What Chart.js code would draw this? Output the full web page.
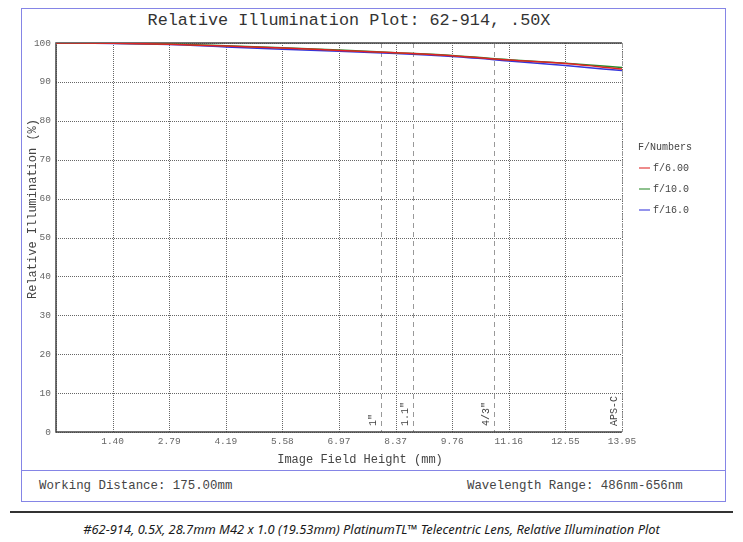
<!DOCTYPE html>
<html>
<head>
<meta charset="utf-8">
<script src="https://cdn.jsdelivr.net/npm/chart.js@4.4.1/dist/chart.umd.min.js"></script>
<style>
    body { margin: 0; background: #fff; width: 743px; height: 542px; position: relative; overflow: hidden; }
    .frame { position: absolute; left: 21px; top: 8px; width: 705px; height: 494px; border: 1.5px solid #8585e6; box-sizing: border-box; }
    .sep { position: absolute; left: 21px; top: 470px; width: 705px; border-top: 1.5px solid #8585e6; }
    .info { position: absolute; top: 479px; font: 12.4px "Liberation Mono", monospace; color: #444; }
    .rule { position: absolute; left: 10px; top: 511px; width: 723px; height: 2px; background: #333; }
    .caption { position: absolute; left: 0; width: 743px; top: 520px; text-align: center; font: italic 12.9px "Noto Sans", sans-serif; color: #1a1a1a; }
    .title { position: absolute; left: 0; width: 698px; top: 11px; text-align: center; font: 16.8px "Liberation Mono", monospace; color: #333; }
    canvas { position: absolute; left: 0; top: 0; }
</style>
</head>
<body>

<div class="frame"></div>
<div class="sep"></div>
<div class="title">Relative Illumination Plot: 62-914, .50X</div>
<div class="info" style="left:39px">Working Distance: 175.00mm</div>
<div class="info" style="left:467px">Wavelength Range: 486nm-656nm</div>
<div class="rule"></div>
<div class="caption">#62-914, 0.5X, 28.7mm M42 x 1.0 (19.53mm) PlatinumTL™ Telecentric Lens, Relative Illumination Plot</div>

<canvas id="riChart" width="743" height="542"></canvas>

<script>

// field height samples (mm)
const fieldHeight = [0, 1.395, 2.79, 4.185, 5.58, 6.975, 8.37, 9.765, 11.16, 12.555, 13.95];

// relative illumination (%) per f-number
const f6 = [100, 99.95, 99.7, 99.2, 98.7, 98.1, 97.5, 96.7, 95.6, 94.7, 93.3];
const f10 = [100, 99.95, 99.75, 99.3, 98.8, 98.2, 97.5, 96.8, 95.7, 94.8, 93.7];
const f16 = [100, 99.9, 99.6, 99.0, 98.4, 97.9, 97.3, 96.5, 95.4, 94.2, 92.9];

const seriesLabels = ["f/6.00", "f/10.0", "f/16.0"];

const xTickValues = [0, 1.395, 2.79, 4.185, 5.58, 6.975, 8.37, 9.765, 11.16, 12.555, 13.95];
const xTickLabels = ["", "1.40", "2.79", "4.19", "5.58", "6.97", "8.37", "9.76", "11.16", "12.55", "13.95"];

// sensor half-diagonals (mm)
const sensorNames = ['1"', '1.1"', '4/3"', "APS-C"];
const sensorHeights = [8.0, 8.8, 10.8, 13.95];

const colors = ["#e02424", "#2a8a2a", "#3535dc"];
const mono = '"Liberation Mono", monospace';

function toPoints(arr) {
    return fieldHeight.map((x, i) => ({ x: x, y: arr[i] }));
}

// grid, plot frame, sensor markers, axis titles, legend
const decorPlugin = {
    id: "decor",
    beforeDatasetsDraw(chart) {
        const ctx = chart.ctx;
        const a = chart.chartArea;
        const xs = chart.scales.x;
        const ys = chart.scales.y;

        ctx.save();
        ctx.strokeStyle = "#666";
        ctx.lineWidth = 1;
        ctx.setLineDash([1, 1]);
        xs.ticks.forEach(t => {
            const px = Math.round(xs.getPixelForValue(t.value)) + 0.5;
            ctx.beginPath();
            ctx.moveTo(px, a.top);
            ctx.lineTo(px, a.bottom);
            ctx.stroke();
        });
        ys.ticks.forEach(t => {
            const py = Math.round(ys.getPixelForValue(t.value)) + 0.5;
            ctx.beginPath();
            ctx.moveTo(a.left, py);
            ctx.lineTo(a.right, py);
            ctx.stroke();
        });

        // sensor size markers
        ctx.strokeStyle = "#999";
        ctx.setLineDash([5, 4]);
        sensorHeights.forEach((h, i) => {
            const px = Math.round(xs.getPixelForValue(h)) + 0.5;
            ctx.beginPath();
            ctx.moveTo(px, a.top);
            ctx.lineTo(px, a.bottom);
            ctx.stroke();

            ctx.save();
            ctx.translate(px - 8, a.bottom - 6);
            ctx.rotate(-Math.PI / 2);
            ctx.setLineDash([]);
            ctx.fillStyle = "#444";
            ctx.font = "10px " + mono;
            ctx.textAlign = "left";
            ctx.textBaseline = "middle";
            ctx.fillText(sensorNames[i], 0, 0);
            ctx.restore();
        });

        // plot frame
        ctx.setLineDash([]);
        ctx.strokeStyle = "#444";
        ctx.lineWidth = 1.5;
        ctx.beginPath();
        ctx.moveTo(a.right, a.top);
        ctx.lineTo(a.left, a.top);
        ctx.lineTo(a.left, a.bottom);
        ctx.lineTo(a.right, a.bottom);
        ctx.stroke();

        // axis titles
        ctx.fillStyle = "#444";
        ctx.font = "12px " + mono;
        ctx.textAlign = "center";
        ctx.textBaseline = "middle";
        ctx.fillText("Image Field Height (mm)", 360, 460);

        ctx.save();
        ctx.translate(33, 209);
        ctx.rotate(-Math.PI / 2);
        ctx.fillText("Relative Illumination (%)", 0, 0);
        ctx.restore();

        // legend
        ctx.font = "10px " + mono;
        ctx.textAlign = "left";
        ctx.fillStyle = "#444";
        ctx.fillText("F/Numbers", 638, 147);
        chart.data.datasets.forEach((ds, i) => {
            const y = 168 + i * 21;
            ctx.strokeStyle = ds.borderColor;
            ctx.globalAlpha = 0.7;
            ctx.lineWidth = 1.5;
            ctx.beginPath();
            ctx.moveTo(639, y);
            ctx.lineTo(650, y);
            ctx.stroke();
            ctx.globalAlpha = 1;
            ctx.fillText(ds.label, 653, y);
        });

        ctx.restore();
    }
};

new Chart(document.getElementById("riChart"), {
    type: "line",

    data: {
        datasets: [
            { label: seriesLabels[0], data: toPoints(f6), borderColor: colors[0] },
            { label: seriesLabels[1], data: toPoints(f10), borderColor: colors[1] },
            { label: seriesLabels[2], data: toPoints(f16), borderColor: colors[2] }
        ]
    },

    options: {
        responsive: false,
        animation: false,

        elements: {
            point: { radius: 0 },
            line: { borderWidth: 1.5, tension: 0.4, cubicInterpolationMode: "monotone", fill: false }
        },

        layout: {
            padding: { left: 0, top: 43, right: 121, bottom: 90 }
        },

        plugins: {
            legend: { display: false },
            tooltip: { enabled: false },
            title: { display: false }
        },

        scales: {
            x: {
                type: "linear",
                min: 0,
                max: 13.95,
                afterBuildTicks: (scale) => {
                    scale.ticks = xTickValues.map(v => ({ value: v }));
                },
                afterFit: (scale) => { scale.height = 20; },
                grid: { display: false, drawTicks: false, tickLength: 0 },
                border: { display: false },
                ticks: {
                    autoSkip: false,
                    maxRotation: 0,
                    padding: 4,
                    color: "#666",
                    font: { family: mono, size: 9.5 },
                    callback: (v, i) => xTickLabels[i]
                }
            },
            y: {
                min: 0,
                max: 100,
                afterFit: (scale) => { scale.width = 56; },
                grid: { display: false, drawTicks: false, tickLength: 0 },
                border: { display: false },
                ticks: {
                    stepSize: 10,
                    padding: 5,
                    color: "#666",
                    font: { family: mono, size: 9.5 }
                }
            }
        }
    },

    plugins: [decorPlugin]
});

</script>
</body>
</html>
